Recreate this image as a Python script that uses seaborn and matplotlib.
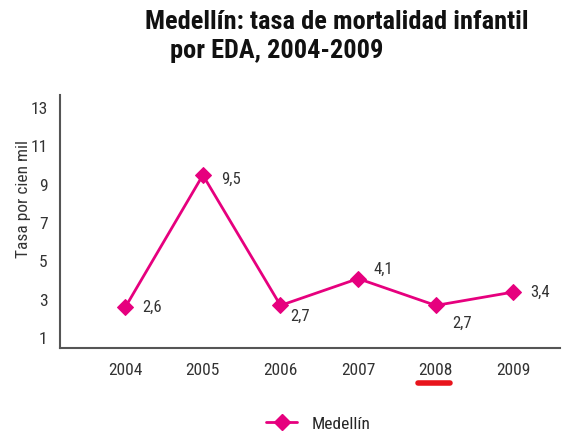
import matplotlib
matplotlib.use("Agg")
import matplotlib.pyplot as plt
import seaborn as sns
import pandas as pd
from matplotlib.lines import Line2D

# Data
years = ['2004', '2005', '2006', '2007', '2008', '2009']
tasa = [2.6, 9.5, 2.7, 4.1, 2.7, 3.4]
labels = ['2,6', '9,5', '2,7', '4,1', '2,7', '3,4']
yticks = [1, 3, 5, 7, 9, 11, 13]

# label nudges (points), as placed in the original
label_dx = [12, 13, 7, 11, 12, 12]
label_dy = [0, -3, -8, 7, -13, 0]

df = pd.DataFrame({'year': years, 'tasa': tasa, 'idx': range(len(years))})

sns.set_style('white')
plt.rcParams['font.family'] = ['Roboto Condensed', 'DejaVu Sans']
color = '#E6007E'
gray = '#555555'
text_col = '#333333'

fig = plt.figure(figsize=(5.66, 4.34), dpi=100)
ax = fig.add_axes([60 / 566, 1 - 348 / 434, 500 / 566, 253 / 434])

sns.lineplot(data=df, x='idx', y='tasa', ax=ax, color=color, linewidth=2,
             marker='D', markersize=8, markeredgecolor=color, legend=False)

for i, (v, lab) in enumerate(zip(tasa, labels)):
    ax.annotate(lab, (i, v), xytext=(label_dx[i], label_dy[i]), textcoords='offset points',
                va='center', ha='left', fontsize=12, color=text_col)

ax.set_xlim(-0.84, 5.6)
ax.set_ylim(0.48, 13.68)
ax.set_xticks(range(len(years)))
ax.set_xticklabels(years)
ax.set_yticks(yticks)
ax.tick_params(axis='both', length=0, labelsize=12.5, colors=text_col)
ax.tick_params(axis='x', pad=11)
ax.tick_params(axis='y', pad=9)
ax.set_xlabel('')
ax.set_ylabel('Tasa por cien mil', fontsize=12.5, color=text_col, labelpad=2)
ax.yaxis.set_label_coords(-0.058, 0.59)
for s in ['top', 'right']:
    ax.spines[s].set_visible(False)
for s in ['left', 'bottom']:
    ax.spines[s].set_color(gray)
    ax.spines[s].set_linewidth(1.5)

fig.text(145 / 566, 1 - 22 / 434, 'Medellín: tasa de mortalidad infantil',
         fontsize=19, fontweight='bold', color='#111111', va='center', ha='left')
fig.text(170 / 566, 1 - 51 / 434, 'por EDA, 2004-2009',
         fontsize=19, fontweight='bold', color='#111111', va='center', ha='left')

# red underline under 2008
fig.add_artist(Line2D([418 / 566, 450 / 566], [1 - 383 / 434, 1 - 383 / 434],
                      color='#E8141C', linewidth=4, solid_capstyle='round'))

handle = Line2D([], [], color=color, linewidth=2, marker='D', markersize=8)
fig.legend([handle], ['Medellín'], loc='center', bbox_to_anchor=(318 / 566, 1 - 424 / 434),
           frameon=False, fontsize=12.5, handlelength=1.8)

fig.savefig('out.png', dpi=100)
